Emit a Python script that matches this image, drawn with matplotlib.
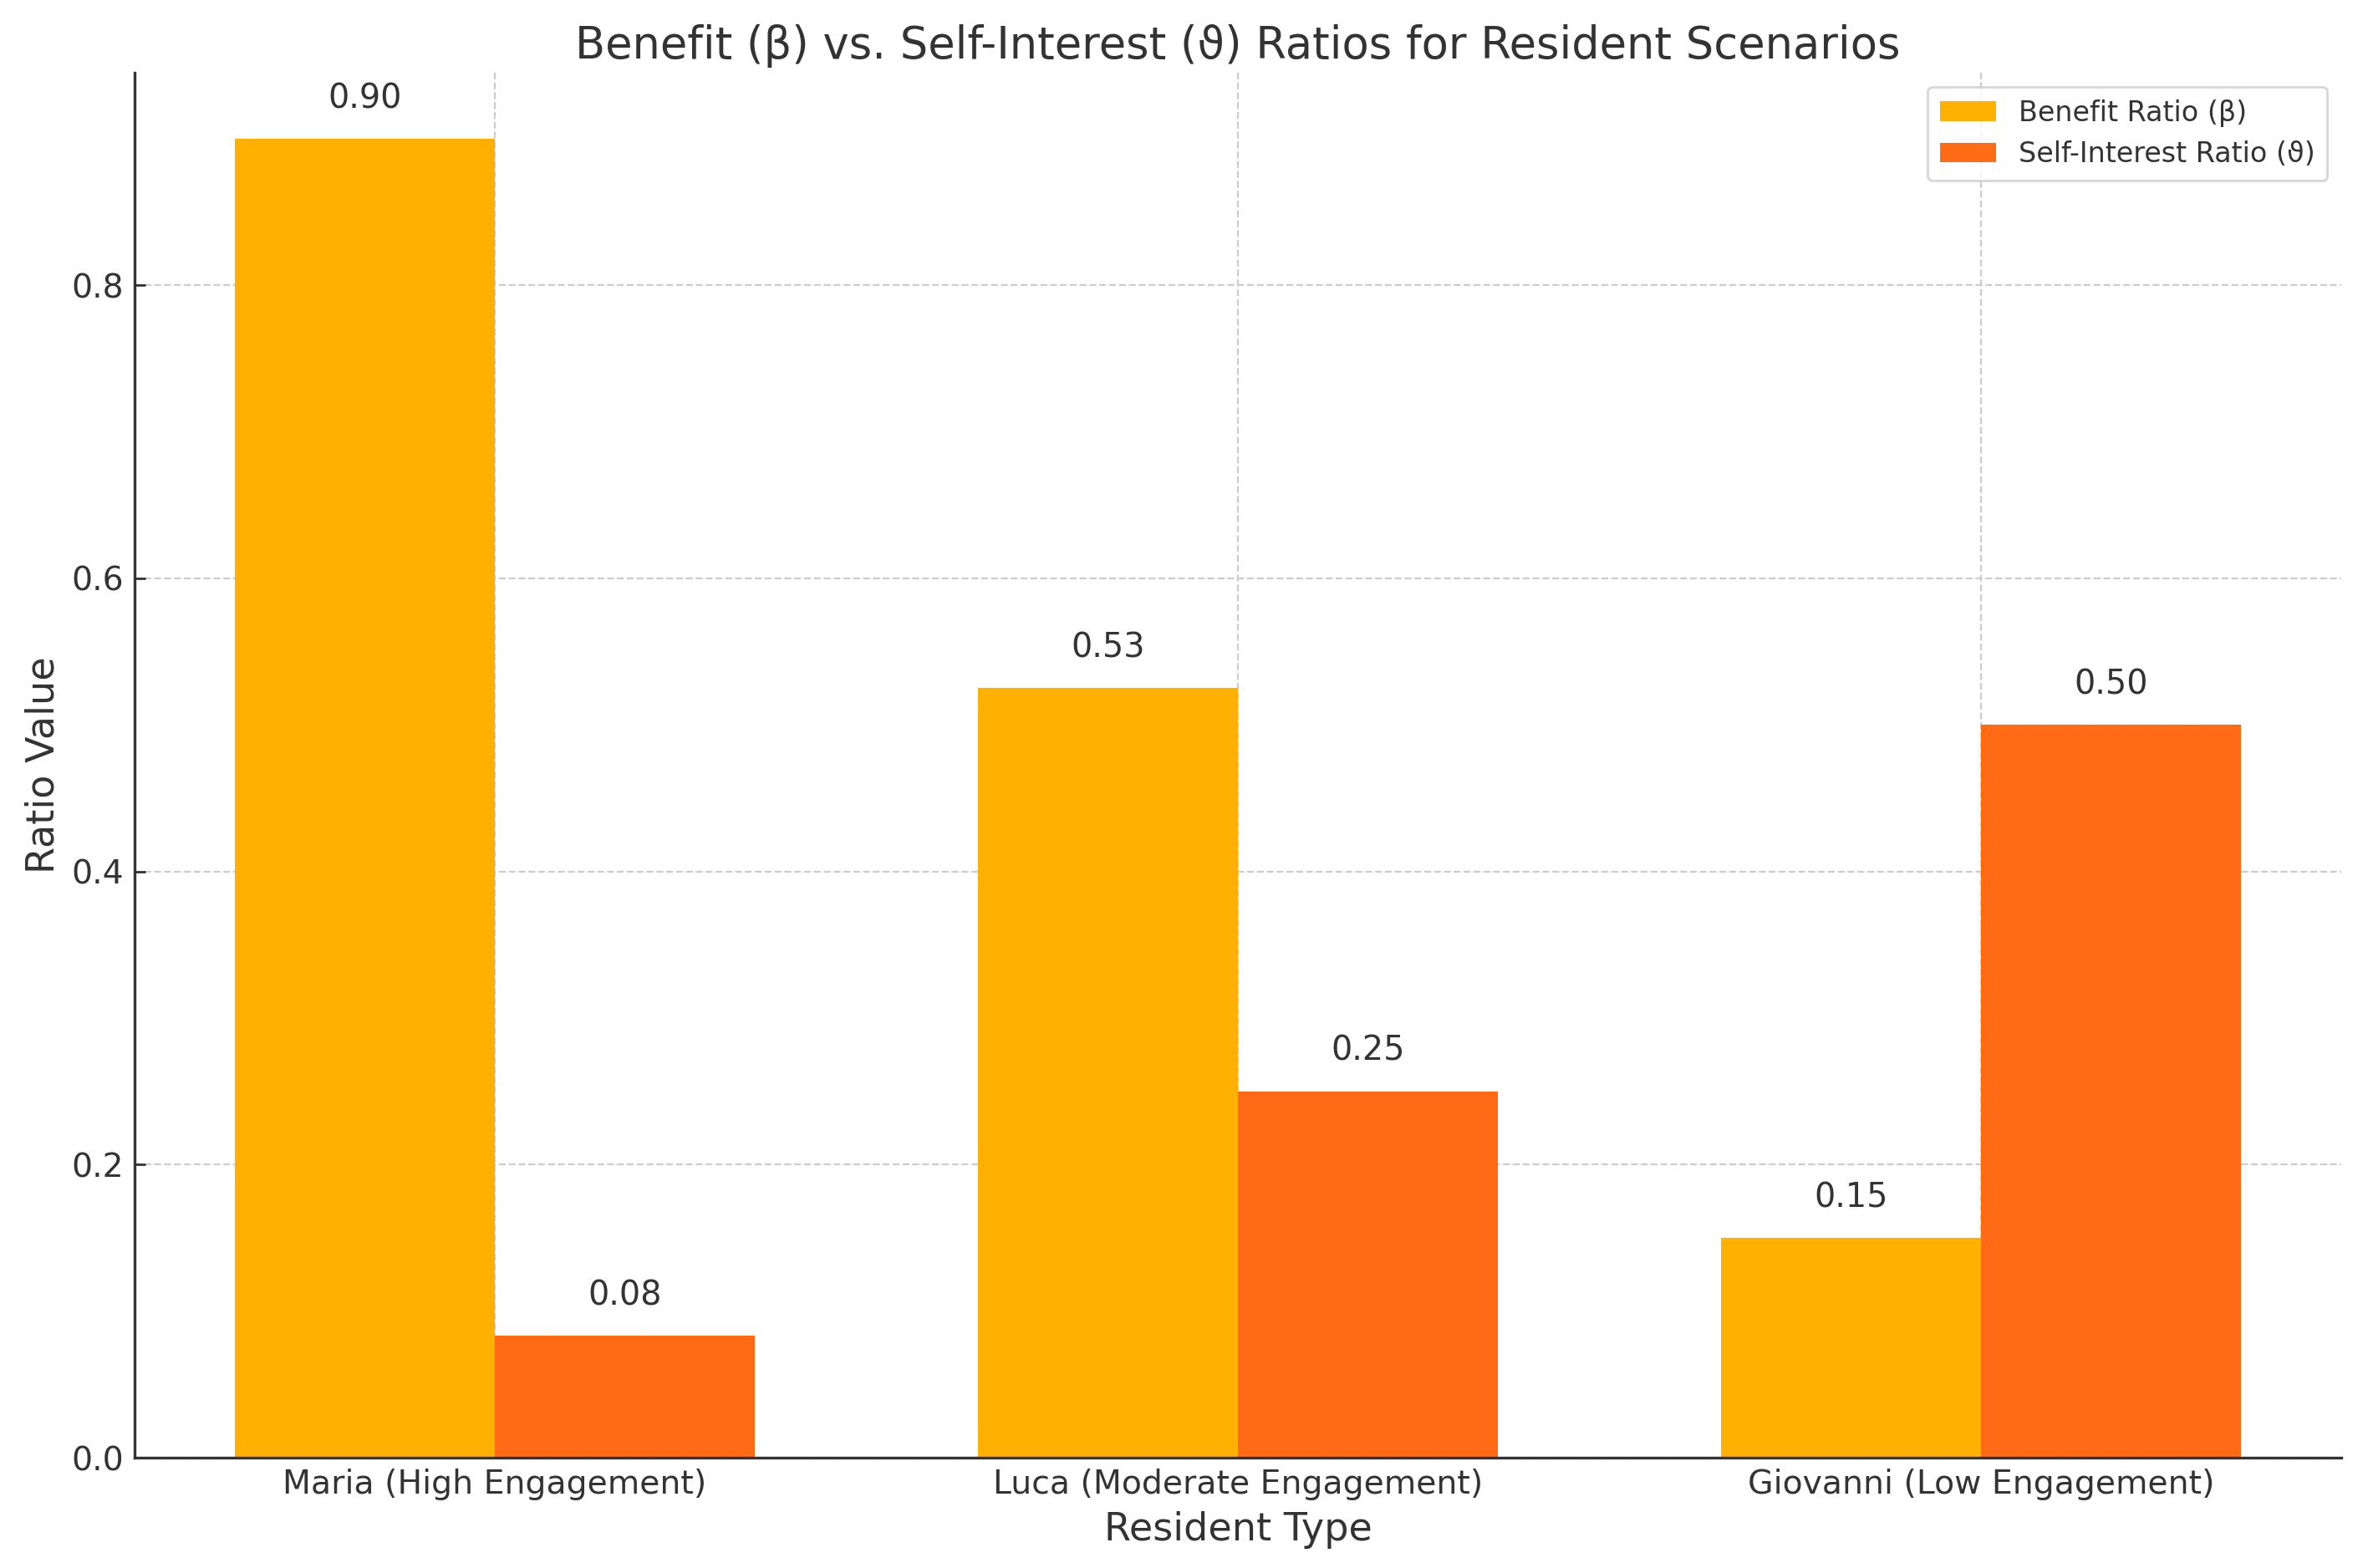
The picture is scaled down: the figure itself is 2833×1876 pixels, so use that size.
import matplotlib
matplotlib.use("Agg")
import matplotlib.pyplot as plt
import numpy as np

residents = ["Maria (High Engagement)", "Luca (Moderate Engagement)", "Giovanni (Low Engagement)"]
benefit_ratio = [0.90, 0.525, 0.15]
self_interest_ratio = [0.083, 0.25, 0.50]
series_labels = ["Benefit Ratio (β)", "Self-Interest Ratio (ϑ)"]
colors = ["#FFB000", "#FF6A14"]

text_color = "#333333"
plt.rcParams['font.family'] = ['DejaVu Sans']
plt.rcParams['text.color'] = text_color
plt.rcParams['axes.labelcolor'] = text_color
plt.rcParams['xtick.color'] = text_color
plt.rcParams['ytick.color'] = text_color

W, H = 2833, 1876
fig = plt.figure(figsize=(W/200, H/200), dpi=200)
left, right, top, bottom = 161, 2801, 87, 1744
ax = fig.add_axes([left/W, 1-bottom/H, (right-left)/W, (bottom-top)/H])

x = np.arange(len(residents))
w = 0.35
b1 = ax.bar(x - w/2, benefit_ratio, w, color=colors[0], label=series_labels[0], zorder=2)
b2 = ax.bar(x + w/2, self_interest_ratio, w, color=colors[1], label=series_labels[1], zorder=2)

for bars in (b1, b2):
    for r in bars:
        h = r.get_height()
        ax.annotate(f"{h:.2f}", xy=(r.get_x() + r.get_width()/2, h), xytext=(0, 10),
                    textcoords="offset points", ha="center", va="bottom", fontsize=14.3, color=text_color)

ax.set_xticks(x)
ax.set_xticklabels(residents, fontsize=14.2)
ax.tick_params(axis='both', direction='in', length=4.5, width=1.0, pad=4.5, labelsize=14.2)
ax.set_xlabel("Resident Type", fontsize=16.6, labelpad=5)
ax.set_ylabel("Ratio Value", fontsize=16.6)
ax.set_title("Benefit (β) vs. Self-Interest (ϑ) Ratios for Resident Scenarios", fontsize=19, color=text_color)
ax.grid(True, linestyle='--', color='#cccccc', linewidth=0.8, zorder=0)
ax.set_axisbelow(True)
for s in ("top", "right"):
    ax.spines[s].set_visible(False)
for s in ("left", "bottom"):
    ax.spines[s].set_color("#333333")
    ax.spines[s].set_linewidth(1.2)
ax.legend(loc="upper right", fontsize=12, framealpha=0.8, borderpad=0.45)

fig.savefig("out.png", dpi=200)
